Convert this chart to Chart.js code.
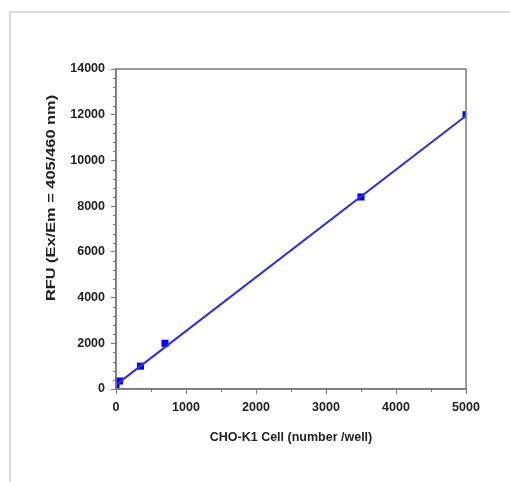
<!DOCTYPE html>
<html><head><meta charset="utf-8">
<script src="https://cdn.jsdelivr.net/npm/chart.js@4.4.0/dist/chart.umd.min.js"></script>
<style>html,body{margin:0;padding:0;background:#fff}canvas{display:block}</style>
</head><body>
<canvas id="c" width="510" height="482"></canvas>
<script>
const cellCounts = [0, 50, 350, 700, 3500, 5000];
const rfuValues = [200, 350, 1000, 2000, 8400, 12000];
const fitX = [0, 5000];
const fitY = [180, 11950];
const xTickMax = 5000, yTickMax = 14000;
const xTitle = 'CHO-K1 Cell (number /well)';
const yTitle = 'RFU (Ex/Em = 405/460 nm)';

const FONT = "'Liberation Sans', Arial, sans-serif";
const axisGray = '#7a7a7a';

const frame = {
  id: 'frame',
  beforeDraw(chart) {
    const c = chart.ctx;
    c.save();
    c.strokeStyle = '#dcdcdc'; c.lineWidth = 2;
    c.beginPath(); c.moveTo(10, 482); c.lineTo(10, 12); c.lineTo(510, 12); c.stroke();
    c.restore();
  },
  afterDatasetsDraw(chart) {
    const c = chart.ctx, a = chart.chartArea, xs = chart.scales.x, ys = chart.scales.y;
    c.save();
    c.strokeStyle = axisGray; c.lineWidth = 1.5;
    c.strokeRect(a.left, a.top, a.right - a.left, a.bottom - a.top);
    c.lineWidth = 1;
    c.beginPath();
    for (let v = 0; v <= yTickMax; v += 400) {
      if (v % 2000 === 0) continue;
      const y = Math.round(ys.getPixelForValue(v)) + 0.5;
      c.moveTo(a.left - 3, y); c.lineTo(a.left, y);
    }
    for (let v = 500; v <= xTickMax; v += 1000) {
      const x = Math.round(xs.getPixelForValue(v)) + 0.5;
      c.moveTo(x, a.bottom); c.lineTo(x, a.bottom + 3);
    }
    c.stroke();
    // y axis title (stretched along its length like the reference)
    c.translate(51, 198);
    c.rotate(-Math.PI / 2);
    c.scale(1.26, 1);
    c.fillStyle = '#222';
    c.font = "bold 13px " + FONT;
    c.textAlign = 'center'; c.textBaseline = 'middle';
    c.fillText(yTitle, 0, 0);
    c.restore();
  }
};

new Chart(document.getElementById('c'), {
  type: 'scatter',
  data: {
    datasets: [
      {
        type: 'line',
        data: fitX.map((x, i) => ({x, y: fitY[i]})),
        borderColor: '#3030d4', borderWidth: 2, pointRadius: 0, fill: false, tension: 0
      },
      {
        data: cellCounts.map((x, i) => ({x, y: rfuValues[i]})),
        pointStyle: 'rect', pointRadius: 5, backgroundColor: '#0000ff', borderColor: '#0000ff', borderWidth: 0
      }
    ]
  },
  options: {
    responsive: false, animation: false, devicePixelRatio: 1,
    layout: { padding: { left: 36, top: 69, right: 44, bottom: 0 } },
    plugins: { legend: { display: false }, tooltip: { enabled: false } },
    scales: {
      x: {
        type: 'linear', min: 0, max: xTickMax,
        afterFit(s) { s.height = 93; },
        ticks: { stepSize: 1000, color: '#222', padding: 6, callback: v => String(v), font: { family: FONT, size: 12.5, weight: 'bold' } },
        grid: { drawOnChartArea: false, drawTicks: true, tickLength: 5, color: axisGray },
        border: { color: axisGray, width: 1.5 },
        title: { display: true, text: xTitle, color: '#222', font: { family: FONT, size: 12.5, weight: 'bold' }, padding: { top: 0, bottom: 37 } }
      },
      y: {
        type: 'linear', min: 0, max: yTickMax,
        afterFit(s) { s.width = 80; },
        ticks: { stepSize: 2000, color: '#222', padding: 6, callback: v => String(v), font: { family: FONT, size: 12.5, weight: 'bold' } },
        grid: { drawOnChartArea: false, drawTicks: true, tickLength: 5, color: axisGray },
        border: { color: axisGray, width: 1.5 },
        title: { display: false, text: yTitle }
      }
    }
  },
  plugins: [frame]
});
</script>
</body></html>
